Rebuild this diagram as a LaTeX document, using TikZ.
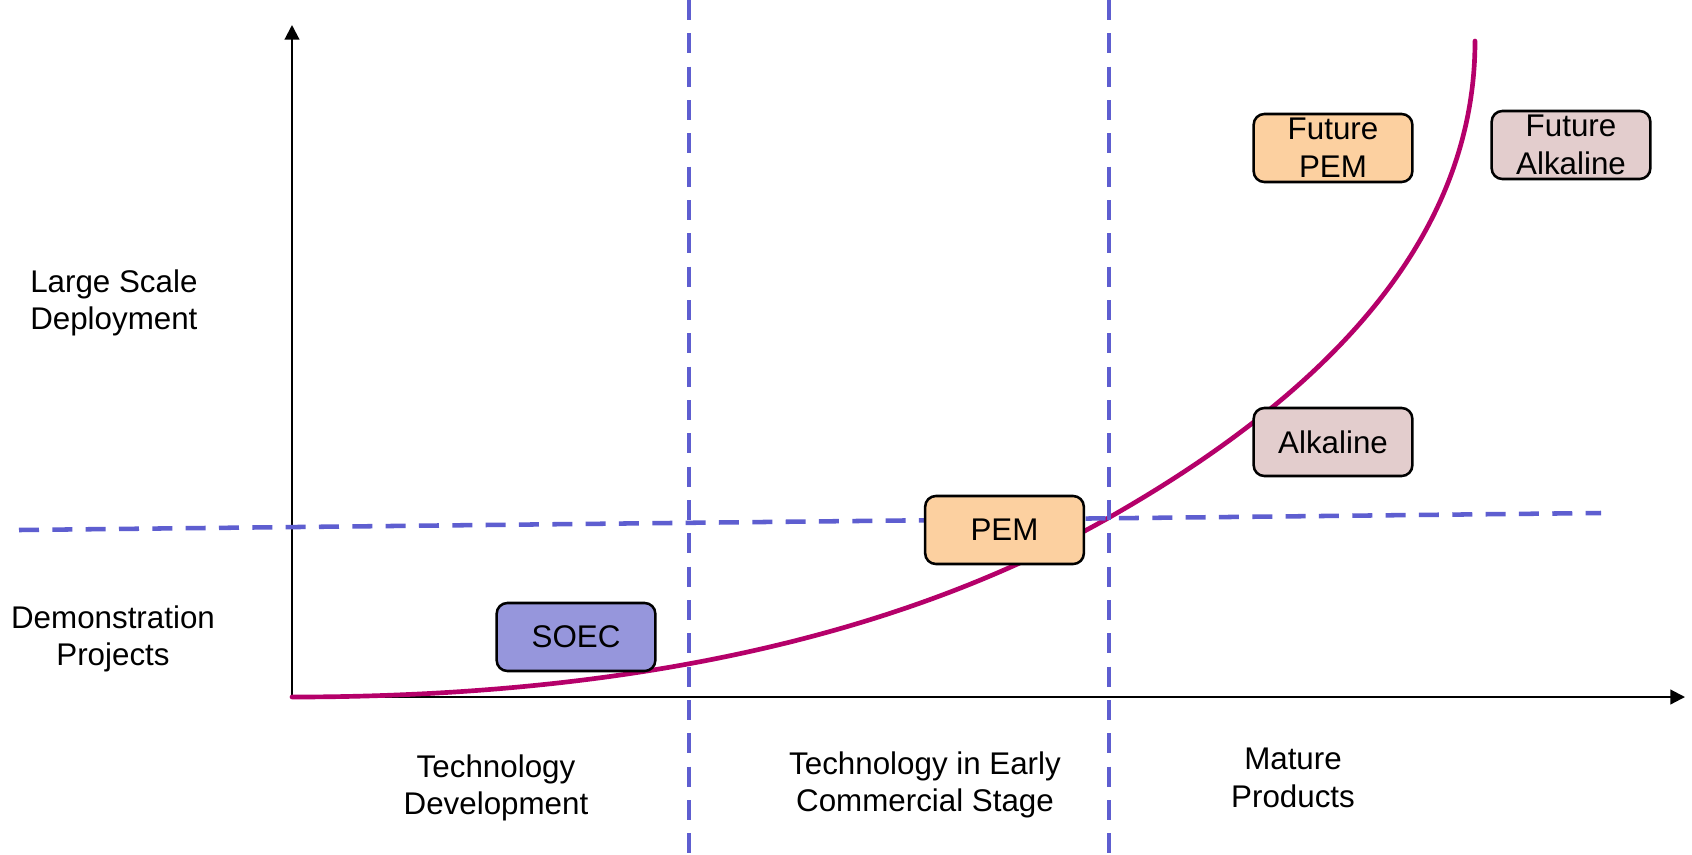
\documentclass[tikz,border=0pt]{standalone}
\usepackage{fontspec}
\setmainfont{Liberation Sans}
\usetikzlibrary{arrows.meta}
\definecolor{curvecol}{RGB}{181,0,106}
\definecolor{dashcol}{RGB}{94,94,208}
\definecolor{soecfill}{RGB}{150,150,220}
\definecolor{pemfill}{RGB}{252,208,160}
\definecolor{alkfill}{RGB}{227,205,205}
\begin{document}
\begin{tikzpicture}[x=0.75pt,y=-0.75pt,
  lbl/.style={align=center, inner sep=0pt, font=\fontsize{23.5}{28.3}\selectfont},
  techbox/.style={draw=black, line width=1.9pt, rounded corners=8pt, minimum width=119pt, minimum height=51pt, inner sep=0pt, align=center, font=\fontsize{23.5}{28.3}\selectfont},
  axisline/.style={line width=1.6pt, -{Triangle[length=11pt,width=11pt]}},
  growth/.style={draw=curvecol, line width=3.5pt, line cap=round},
  guide/.style={draw=dashcol, line width=3.4pt, dash pattern=on 15pt off 10pt}]
\useasboundingbox (0,0) rectangle (1692,854);
\fill[white] (0,0) rectangle (1692,854);
% axes
\coordinate (O) at (292,697);
\coordinate (Ytip) at (292,25);
\coordinate (Xtip) at (1685,697);
\draw[axisline] (O) -- (Ytip);
\draw[axisline] (O) -- (Xtip);
% growth curve
\coordinate (cj) at (1110,517);
\coordinate (ctop) at (1475,41);
\draw[growth] (O) .. controls (627,697) and (899,637) .. (cj)
  .. controls (1340,386) and (1475,230) .. (ctop);
% guide lines
\coordinate (v1t) at (689,0); \coordinate (v1b) at (689,854);
\coordinate (v2t) at (1109,0); \coordinate (v2b) at (1109,854);
\coordinate (hl) at (19,530); \coordinate (hr) at (1601,513);
\draw[guide] (v1t) -- (v1b);
\draw[guide] (v2t) -- (v2b);
\draw[guide] (hl) -- (hr);
% boxes
\node[techbox, fill=soecfill] (soec) at (576,637) {SOEC};
\node[techbox, fill=pemfill] (pem) at (1004.5,530) {PEM};
\node[techbox, fill=alkfill] (alk) at (1333,442) {Alkaline};
\node[techbox, fill=pemfill] (fpem) at (1333,148) {Future\\PEM};
\node[techbox, fill=alkfill] (falk) at (1571,145) {Future\\Alkaline};
% labels
\node[lbl, anchor=west, align=left] (ls) at (30,303) {Large Scale\\Deployment};
\node[lbl] (dp) at (113,639) {Demonstration\\Projects};
\node[lbl] (td) at (496,788) {Technology\\Development};
\node[lbl] (te) at (925,785) {Technology in Early\\Commercial Stage};
\node[lbl] (mp) at (1293,778) {Mature\\Products};
\end{tikzpicture}
\end{document}
